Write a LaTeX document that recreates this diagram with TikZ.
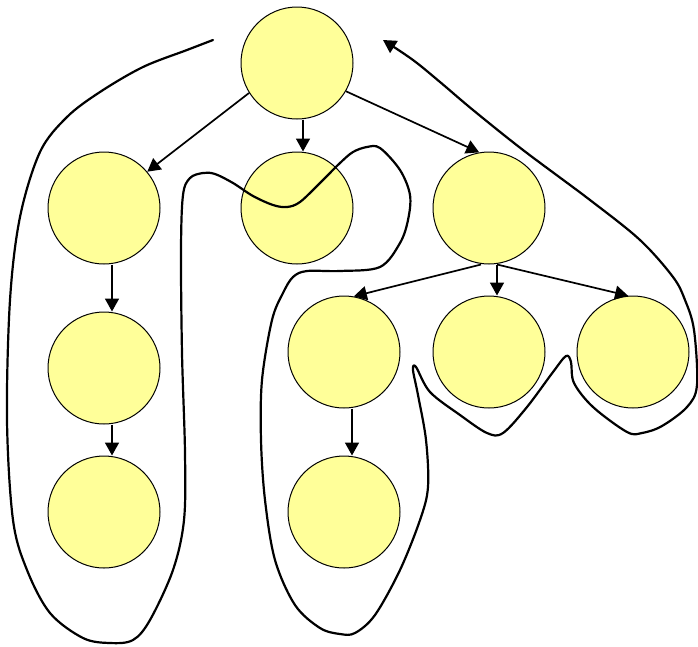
\documentclass[tikz,border=0pt]{standalone}
\usetikzlibrary{arrows.meta}
\definecolor{nodefill}{RGB}{255,255,153}
\begin{document}
\begin{tikzpicture}[x=1pt,y=-1pt,
  vert/.style={circle,draw=black,line width=1pt,fill=nodefill,minimum size=112pt,inner sep=0pt},
  edge/.style={line width=1.7pt,-{Triangle[length=13pt,width=14pt]}},
  walk/.style={line width=2.2pt,line join=round,line cap=round,-{Triangle[length=13pt,width=14pt]}}]
\useasboundingbox (0,0) rectangle (698,646);
\node[vert] (r) at (297,63) {};
\node[vert] (a) at (104,208) {};
\node[vert] (b) at (297,208) {};
\node[vert] (c) at (489,208) {};
\node[vert] (a1) at (104,368) {};
\node[vert] (a2) at (104,512) {};
\node[vert] (c1) at (344,352) {};
\node[vert] (c2) at (489,352) {};
\node[vert] (c3) at (633,352) {};
\node[vert] (c11) at (344,512) {};
\draw[edge] (r.-148) -- (a.40);
\draw[edge] ([xshift=6pt]r.south) -- ([xshift=6pt]b.north);
\draw[edge] (r.-30) -- (c.100);
\draw[edge] ([xshift=-8pt]c.south) -- (c1.80);
\draw[edge] ([xshift=8pt]c.south) -- ([xshift=8pt]c2.north);
\draw[edge] ([xshift=8pt]c.south) -- (c3.95);
\draw[edge] ([xshift=8pt]a.south) -- ([xshift=8pt]a1.north);
\draw[edge] ([xshift=8pt]a1.south) -- ([xshift=8pt]a2.north);
\draw[edge] ([xshift=8pt]c1.south) -- ([xshift=8pt]c11.north);
\coordinate (ws) at (213,40);
\coordinate (we) at (383,40);
\draw[walk] plot[smooth,tension=0.55] coordinates {
(ws) (187,50) (143,67) (100,92) (67,117) (40,152) (20,217) (10,300) (7,420) (13,520)
(27,570) (50,613) (83,638) (110,643) (133,640) (150,620) (173,570) (184,520) (185,453)
(182,353) (181,250) (183,195) (190,178) (203,173) (215,174) (233,183) (253,196) (273,205)
(287,207) (300,202) (320,183) (340,163) (353,152) (367,147) (380,148) (400,170) (410,195)
(408,220) (400,243) (380,267) (340,271) (307,271) (293,277) (283,293) (272,320) (262,380)
(261,440) (265,500) (275,560) (295,605) (320,628) (340,634) (355,633) (375,615) (400,570)
(420,520) (428,487) (426,440) (418,395) (413,370) (416,367) (430,392) (460,415) (487,433)
(503,433) (527,407) (553,372) (566,356) (571,362) (574,383) (593,407) (627,432) (642,433)
(662,426) (687,407) (697,385) (694,330) (685,300) (673,277) (640,240) (590,200) (523,150)
(473,110) (440,82) (413,60) (we)};
\end{tikzpicture}
\end{document}
